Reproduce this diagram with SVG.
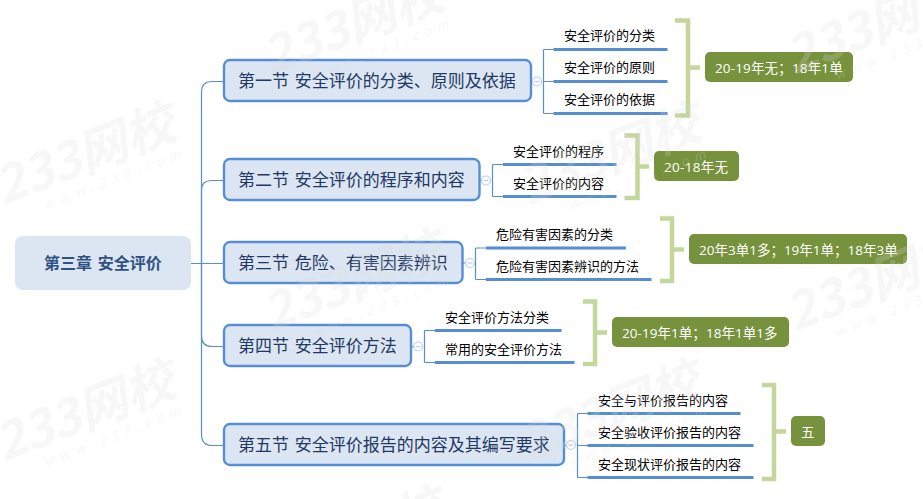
<svg xmlns="http://www.w3.org/2000/svg" width="923" height="499" viewBox="0 0 923 499">
<defs>
<g id="wm" font-family="'Open Sans','Noto Sans CJK SC',sans-serif">
<text transform="rotate(-21)" font-size="50" font-weight="700" font-style="italic" x="0" y="0">233网校</text>
<text transform="rotate(-21)" font-size="13" letter-spacing="6" font-style="italic" x="38" y="20">www.233.com</text>
</g>
</defs>
<style>
text{font-family:"Noto Sans CJK SC","Open Sans",sans-serif}
.sec rect{fill:#dce6f2;stroke:#558ed5;stroke-width:2.4}
.sec text{font-size:17px;fill:#1f3864;word-spacing:2px}
.ln{fill:none;stroke:#558ed5;stroke-width:1.2}
.ul{stroke:#558ed5;stroke-width:3;fill:none}
.sub{font-size:13px;fill:#000}
.br{fill:none;stroke:#c3d69b;stroke-width:4.5}
.tag rect{fill:#76923c}
.tag text{font-size:13.500px;fill:#fff;font-family:"Open Sans","Noto Sans CJK SC",sans-serif}
.col{fill:#fff;stroke:#b9cdf0;stroke-width:1.2}
.mn{stroke:#b9cdf0;stroke-width:1.2}
#watermarks{fill:#d8d8d8;opacity:.22}
</style>
<rect width="923" height="499" fill="#fff"/>
<g id="connectors">
<path class="ln" d="M191 263.5H223.5"/>
<path class="ln" d="M201.500 263.500V92Q201.500 81.500 212 81.500H223.500"/>
<path class="ln" d="M201.500 263.500V190Q201.500 180.500 212 180.500H223.500"/>
<path class="ln" d="M201.500 263.500V336Q201.500 346.500 212 346.500H223.500"/>
<path class="ln" d="M201.500 263.500V434Q201.500 445.500 212 445.500H223.500"/>
<path class="ln" d="M543 81.500H553.500M543.500 49.500V113.500M543.500 49.500H553.500M543.500 113.500H553.500"/>
<path class="ln" d="M492.500 164.500V196.500M492.500 164.500H503M492.500 196.500H503"/>
<path class="ln" d="M475.500 248V279.500M475.500 248H486M475.500 279.500H486"/>
<path class="ln" d="M424.500 330.500V362.500M424.500 330.500H435M424.500 362.500H435"/>
<path class="ln" d="M577.500 413.500V477.500M577.500 413.500H587.500M577.500 445.500H587.500M577.500 477.500H587.500"/>
<path class="ln" d="M531 81.500H532M480 180.500H481M463 263H465M411 346.500H413M564 445.500H566" stroke="#b9cdf0"/>
</g>
<g id="root"><rect x="15" y="236" width="176" height="54" rx="8" fill="#dce6f2"/><text x="44" y="269" font-size="16" font-weight="700" fill="#2f5283" word-spacing="2">第三章 安全评价</text></g>
<g id="sec1" class="sec"><rect x="224" y="60" width="307" height="41" rx="6"/><text x="238" y="87">第一节 安全评价的分类、原则及依据</text></g>
<g id="sec2" class="sec"><rect x="224" y="159" width="255.500" height="41" rx="6"/><text x="238" y="186">第二节 安全评价的程序和内容</text></g>
<g id="sec3" class="sec"><rect x="224" y="242" width="238.500" height="41" rx="6"/><text x="238" y="269">第三节 危险、有害因素辨识</text></g>
<g id="sec4" class="sec"><rect x="224" y="325" width="187" height="41" rx="6"/><text x="238" y="352">第四节 安全评价方法</text></g>
<g id="sec5" class="sec"><rect x="224" y="424" width="340" height="41" rx="6"/><text x="238" y="451">第五节 安全评价报告的内容及其编写要求</text></g>
<g id="collapsers">
<circle class="col" cx="537" cy="81.500" r="4.500"/><path class="mn" d="M534.500 81.500H539.500"/>
<circle class="col" cx="486" cy="180.500" r="4.500"/><path class="mn" d="M483.500 180.500H488.500"/>
<circle class="col" cx="470" cy="263" r="4.500"/><path class="mn" d="M467.500 263H472.500"/>
<circle class="col" cx="418" cy="346.500" r="4.500"/><path class="mn" d="M415.500 346.500H420.500"/>
<circle class="col" cx="571" cy="445" r="4.500"/><path class="mn" d="M568.500 445H573.500"/>
</g>
<g id="s1a"><text class="sub" x="564" y="40">安全评价的分类</text><path class="ul" d="M553.500 49.500H667.500"/></g>
<g id="s1b"><text class="sub" x="564" y="72">安全评价的原则</text><path class="ul" d="M553.500 81.500H667.500"/></g>
<g id="s1c"><text class="sub" x="564" y="104">安全评价的依据</text><path class="ul" d="M553.500 113.500H667.500"/></g>
<g id="s2a"><text class="sub" x="513" y="156">安全评价的程序</text><path class="ul" d="M503 164.500H616.500"/></g>
<g id="s2b"><text class="sub" x="513" y="188">安全评价的内容</text><path class="ul" d="M503 196.500H616.500"/></g>
<g id="s3a"><text class="sub" x="496" y="239">危险有害因素的分类</text><path class="ul" d="M486 248H626"/></g>
<g id="s3b"><text class="sub" x="496" y="271">危险有害因素辨识的方法</text><path class="ul" d="M486 279.500H651.500"/></g>
<g id="s4a"><text class="sub" x="445" y="322">安全评价方法分类</text><path class="ul" d="M435 330.500H561.500"/></g>
<g id="s4b"><text class="sub" x="445" y="354">常用的安全评价方法</text><path class="ul" d="M435 362.500H574.500"/></g>
<g id="s5a"><text class="sub" x="598" y="405">安全与评价报告的内容</text><path class="ul" d="M587.500 413.500H740.500"/></g>
<g id="s5b"><text class="sub" x="598" y="437">安全验收评价报告的内容</text><path class="ul" d="M587.500 445.500H753.500"/></g>
<g id="s5c"><text class="sub" x="598" y="469">安全现状评价报告的内容</text><path class="ul" d="M587.500 477.500H753.500"/></g>
<g id="brackets">
<path class="br" d="M675 20.500H688V115.500H675M688 67.500H700"/>
<path class="br" d="M624.500 135.500H637.500V198H624.500M637.500 166.500H649"/>
<path class="br" d="M660 218.500H672V281H660M672 249.500H684"/>
<path class="br" d="M583 301.500H595V364H583M595 332.500H607"/>
<path class="br" d="M762 385H774V479H762M774 431.500H786"/>
</g>
<g id="t1" class="tag"><rect x="705" y="52" width="148" height="30" rx="5"/><text x="715" y="73" letter-spacing=".15">20-19年无；18年1单</text></g>
<g id="t2" class="tag"><rect x="654" y="151" width="85" height="30" rx="5"/><text x="664" y="172" letter-spacing=".3">20-18年无</text></g>
<g id="t3" class="tag"><rect x="689" y="234" width="218" height="30" rx="5"/><text x="699" y="255">20年3单1多；19年1单；18年3单</text></g>
<g id="t4" class="tag"><rect x="612" y="317" width="177" height="30" rx="5"/><text x="622" y="338" letter-spacing=".05">20-19年1单；18年1单1多</text></g>
<g id="t5" class="tag"><rect x="791" y="416" width="34" height="30" rx="5"/><text x="801" y="437">五</text></g>
<g id="watermarks">
<use href="#wm" x="3" y="205"/><use href="#wm" x="3" y="462"/>
<use href="#wm" x="271" y="75"/><use href="#wm" x="271" y="332"/><use href="#wm" x="271" y="589"/>
<use href="#wm" x="528" y="205"/><use href="#wm" x="528" y="462"/>
<use href="#wm" x="794" y="75"/><use href="#wm" x="794" y="332"/><use href="#wm" x="794" y="589"/>
</g>
</svg>
